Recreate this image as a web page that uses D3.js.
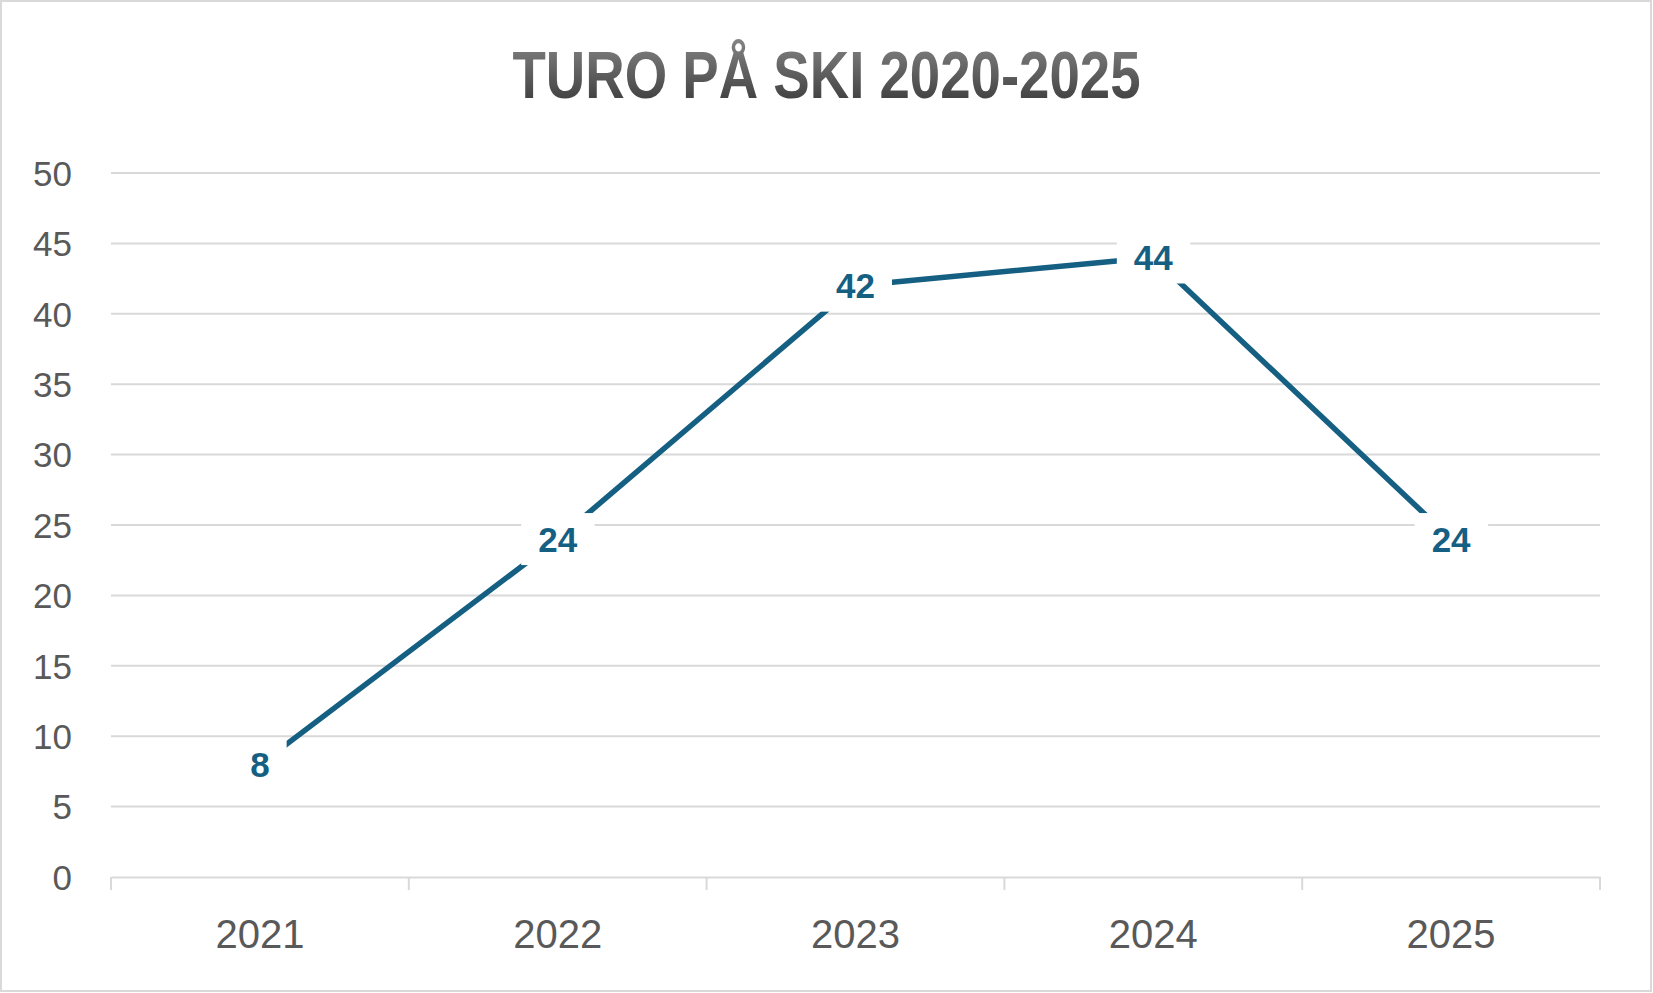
<!DOCTYPE html>
<html>
<head>
<meta charset="utf-8">
<script src="https://cdn.jsdelivr.net/npm/d3@7"></script>
<style>
  html, body { margin: 0; padding: 0; background: #fff; }
  svg { display: block; }
</style>
</head>
<body>
<svg id="chart" width="1653" height="993"></svg>
<script>
const title = "TURO PÅ SKI 2020-2025";
const categories = ["2021", "2022", "2023", "2024", "2025"];
const values = [8, 24, 42, 44, 24];
const yTicks = [0, 5, 10, 15, 20, 25, 30, 35, 40, 45, 50];

const W = 1653, H = 993;
const margin = { left: 111, right: 53, top: 173, bottom: 116 };
const svg = d3.select("#chart");

// background + border
svg.append("rect").attr("x", 1).attr("y", 1).attr("width", W - 3).attr("height", H - 3)
  .attr("fill", "#fff").attr("stroke", "#d9d9d9").attr("stroke-width", 2);

// title gradient
const defs = svg.append("defs");
const grad = defs.append("linearGradient").attr("id", "tg").attr("x1", 0).attr("y1", 0).attr("x2", 0).attr("y2", 1);
grad.append("stop").attr("offset", "0%").attr("stop-color", "#858585");
grad.append("stop").attr("offset", "100%").attr("stop-color", "#353535");

svg.append("text")
  .attr("x", W / 2).attr("y", 98)
  .attr("text-anchor", "middle")
  .attr("font-family", "'Liberation Sans Narrow', 'Liberation Sans', Arial, sans-serif")
  .attr("font-weight", "bold")
  .attr("font-size", 66)
  .attr("textLength", 628).attr("lengthAdjust", "spacingAndGlyphs")
  .attr("fill", "url(#tg)")
  .text(title);

const x = d3.scaleBand().domain(categories).range([margin.left, W - margin.right]).padding(0);
const y = d3.scaleLinear().domain([0, 50]).range([H - margin.bottom, margin.top]);

// gridlines
const grid = svg.append("g");
grid.selectAll("line").data(yTicks.filter(d => d > 0)).join("line")
  .attr("x1", margin.left).attr("x2", W - margin.right)
  .attr("y1", d => y(d)).attr("y2", d => y(d))
  .attr("stroke", "#d9d9d9").attr("stroke-width", 2);

// y axis labels
const yAxis = d3.axisLeft(y).tickValues(yTicks).tickSize(0).tickPadding(0);
const yg = svg.append("g").attr("transform", `translate(72,0)`).call(yAxis);
yg.select(".domain").remove();
yg.selectAll("text")
  .attr("font-family", "'Liberation Sans', Arial, sans-serif")
  .attr("font-size", 35).attr("fill", "#595959")
  .attr("x", 0).attr("dy", "0.35em");

// x axis
const xAxis = d3.axisBottom(x).tickSize(0).tickPadding(0);
const xg = svg.append("g").attr("transform", `translate(0,${y(0)})`).call(xAxis);
xg.select(".domain").attr("stroke", "#d9d9d9").attr("stroke-width", 2);
xg.selectAll("text")
  .attr("font-family", "'Liberation Sans', Arial, sans-serif")
  .attr("font-size", 40).attr("fill", "#595959")
  .attr("y", 71).attr("dy", 0);
// band boundary tick marks
const bounds = categories.map(c => x(c)).concat([x(categories[categories.length - 1]) + x.bandwidth()]);
svg.append("g").selectAll("line").data(bounds).join("line")
  .attr("x1", d => d).attr("x2", d => d)
  .attr("y1", y(0)).attr("y2", y(0) + 13)
  .attr("stroke", "#d9d9d9").attr("stroke-width", 2);

// line
const pts = categories.map((c, i) => ({ c, v: values[i] }));
const line = d3.line().x(d => x(d.c) + x.bandwidth() / 2).y(d => y(d.v));
svg.append("path").datum(pts).attr("d", line)
  .attr("fill", "none").attr("stroke", "#156082").attr("stroke-width", 5.5)
  .attr("stroke-linejoin", "round");

// labels with white boxes
const lab = svg.append("g").selectAll("g").data(pts).join("g")
  .attr("transform", d => `translate(${x(d.c) + x.bandwidth() / 2},${y(d.v)})`);
lab.append("text")
  .attr("text-anchor", "middle").attr("dy", "0.36em")
  .attr("font-family", "'Liberation Sans', Arial, sans-serif")
  .attr("font-weight", "bold").attr("font-size", 35)
  .attr("fill", "#156082")
  .text(d => d.v);
lab.each(function () {
  const g = d3.select(this);
  const bb = g.select("text").node().getBBox();
  g.insert("rect", "text")
    .attr("x", bb.x - 17).attr("width", bb.width + 34)
    .attr("y", -26).attr("height", 52)
    .attr("fill", "#fff");
});
</script>
</body>
</html>
